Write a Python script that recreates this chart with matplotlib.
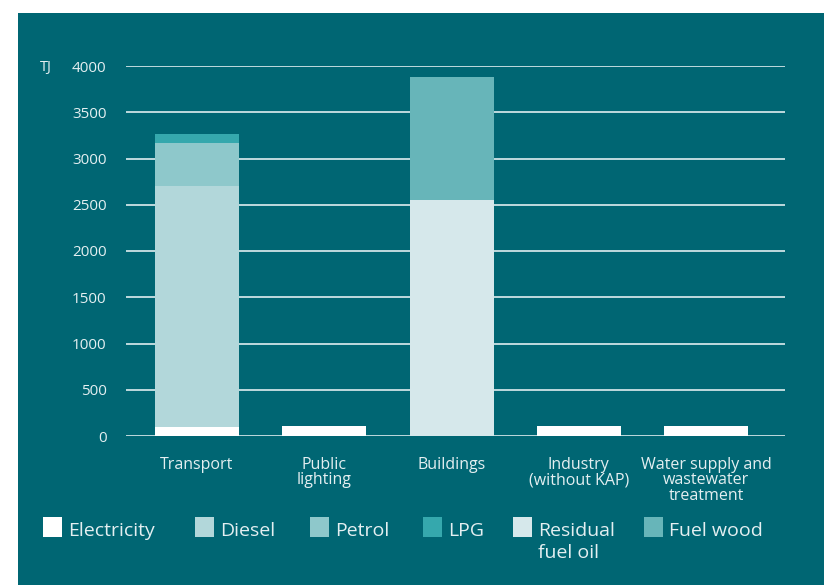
import matplotlib.pyplot as plt
from matplotlib.patches import Rectangle

sectors = ['Transport', 'Public\nlighting', 'Buildings', 'Industry\n(without KAP)',
           'Water supply and\nwastewater\ntreatment']
electricity = [100, 105, 0, 105, 105]
diesel = [2600, 0, 0, 0, 0]
petrol = [465, 0, 0, 0, 0]
lpg = [97, 0, 0, 0, 0]
residual_fuel_oil = [0, 0, 2550, 0, 0]
fuel_wood = [0, 0, 1330, 0, 0]
yticks = [0, 500, 1000, 1500, 2000, 2500, 3000, 3500, 4000]

series = [
    ('Electricity', electricity, '#ffffff'),
    ('Diesel', diesel, '#b2d7da'),
    ('Petrol', petrol, '#8ec8cb'),
    ('LPG', lpg, '#35a8ad'),
    ('Residual\nfuel oil', residual_fuel_oil, '#d6e8eb'),
    ('Fuel wood', fuel_wood, '#67b5b9'),
]

bg = '#006673'
txt = '#e4eff1'
plt.rcParams['font.family'] = ['Open Sans', 'DejaVu Sans']

fig = plt.figure(figsize=(8.24, 5.85), dpi=100)
fig.patch.set_facecolor('white')
# teal panel behind everything
fig.patches.append(Rectangle((18 / 824, 0), 1, 1 - 13 / 585, transform=fig.transFigure,
                             facecolor=bg, edgecolor='none', zorder=0))

ax = fig.add_axes([126 / 824, 1 - 436 / 585, (785 - 126) / 824, (436 - 66) / 585])
ax.set_zorder(2)
ax.patch.set_alpha(0)

x = range(len(sectors))
bottom = [0] * len(sectors)
for name, vals, col in series:
    ax.bar(x, vals, width=0.66, bottom=bottom, color=col, zorder=3)
    bottom = [b + v for b, v in zip(bottom, vals)]

ax.set_ylim(0, 4000)
ax.set_xlim(-0.558, 4.62)
ax.set_yticks(yticks)
ax.set_yticklabels([str(t) for t in yticks])
ax.yaxis.grid(True, color='#cde3e6', linewidth=1.3, zorder=1)
ax.set_axisbelow(True)
for s in ax.spines.values():
    s.set_visible(False)
ax.tick_params(axis='y', length=0, pad=14, labelsize=11, labelcolor=txt)
ax.set_xticks(list(x))
ax.set_xticklabels(sectors, fontsize=11.5, color=txt, linespacing=0.95, va='top')
ax.tick_params(axis='x', length=0, pad=15)
ax.text(-0.13, 4000, 'TJ', transform=ax.get_yaxis_transform(), ha='left',
        va='center_baseline', fontsize=10.5, color=txt)

# legend row along the bottom of the panel
leg_x = [43, 195, 310, 423, 513, 644]
for (name, vals, col), px in zip(series, leg_x):
    fig.patches.append(Rectangle((px / 824, 1 - 537 / 585), 19 / 824, 20 / 585,
                                 transform=fig.transFigure, facecolor=col,
                                 edgecolor='none', zorder=2))
    fig.text((px + 25) / 824, 1 - 522 / 585, name, ha='left', va='top',
             fontsize=14, color=txt, linespacing=1.25)

fig.savefig('out.png', dpi=100, facecolor=fig.get_facecolor())
